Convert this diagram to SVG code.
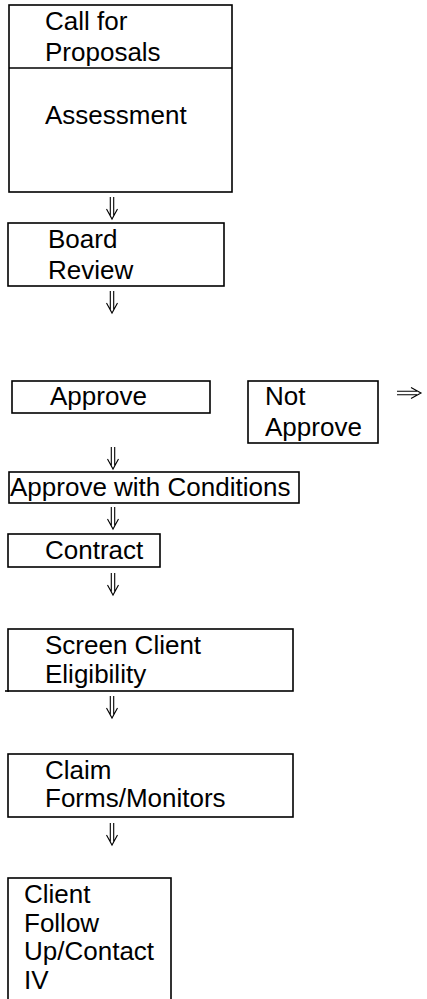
<svg xmlns="http://www.w3.org/2000/svg" width="427" height="999" viewBox="0 0 427 999">
<style>
.box{fill:#fff;stroke:#000;stroke-width:1.6}
.t{font-family:"Liberation Sans",Arial,sans-serif;font-size:26px;fill:#000}
.arr{fill:none;stroke:#000;stroke-width:1.1}
</style>
<defs>
<g id="down"><path d="M-1.7 0V19M1.7 0V19M-5.5 12L0 22L5.5 12"/></g>
<g id="right"><path d="M0 -1.7H20M0 1.7H20M14 -5.5L24 0L14 5.5"/></g>
</defs>
<rect width="427" height="999" fill="#fff"/>
<g id="n-call">
<rect class="box" x="9" y="5" width="223" height="187"/>
<line x1="9" y1="68" x2="232" y2="68" stroke="#000" stroke-width="1.6"/>
<text class="t" x="45" y="30">Call for</text>
<text class="t" x="45" y="61">Proposals</text>
<text class="t" x="45" y="124">Assessment</text>
</g>
<g id="n-board">
<rect class="box" x="8" y="223" width="216" height="63"/>
<text class="t" x="48" y="248">Board</text>
<text class="t" x="48" y="279">Review</text>
</g>
<g id="n-approve">
<rect class="box" x="12" y="381" width="198" height="32"/>
<text class="t" x="50" y="405">Approve</text>
</g>
<g id="n-notapprove">
<rect class="box" x="248" y="381" width="130" height="62"/>
<text class="t" x="265" y="405">Not</text>
<text class="t" x="265" y="436">Approve</text>
</g>
<g id="n-conditions">
<rect class="box" x="9" y="472" width="290" height="31"/>
<text class="t" x="10" y="496">Approve with Conditions</text>
</g>
<g id="n-contract">
<rect class="box" x="8" y="534" width="152" height="33"/>
<text class="t" x="45" y="559">Contract</text>
</g>
<g id="n-screen">
<rect class="box" x="8" y="629" width="285" height="62"/>
<line x1="5" y1="691" x2="9" y2="691" stroke="#000" stroke-width="1.6"/>
<text class="t" x="45" y="654">Screen Client</text>
<text class="t" x="45" y="683">Eligibility</text>
</g>
<g id="n-claim">
<rect class="box" x="8" y="754" width="285" height="63"/>
<text class="t" x="45" y="779">Claim</text>
<text class="t" x="45" y="807">Forms/Monitors</text>
</g>
<g id="n-client">
<rect class="box" x="8" y="878" width="163" height="130"/>
<text class="t" x="24" y="903">Client</text>
<text class="t" x="24" y="932">Follow</text>
<text class="t" x="24" y="960">Up/Contact</text>
<text class="t" x="24" y="989">IV</text>
</g>
<g id="connectors" class="arr">
<use href="#down" x="112" y="197"/>
<use href="#down" x="112" y="291"/>
<use href="#down" x="113" y="447"/>
<use href="#down" x="113" y="507"/>
<use href="#down" x="113" y="573"/>
<use href="#down" x="112" y="696"/>
<use href="#down" x="112" y="823"/>
<use href="#right" x="397" y="393"/>
</g>
</svg>
